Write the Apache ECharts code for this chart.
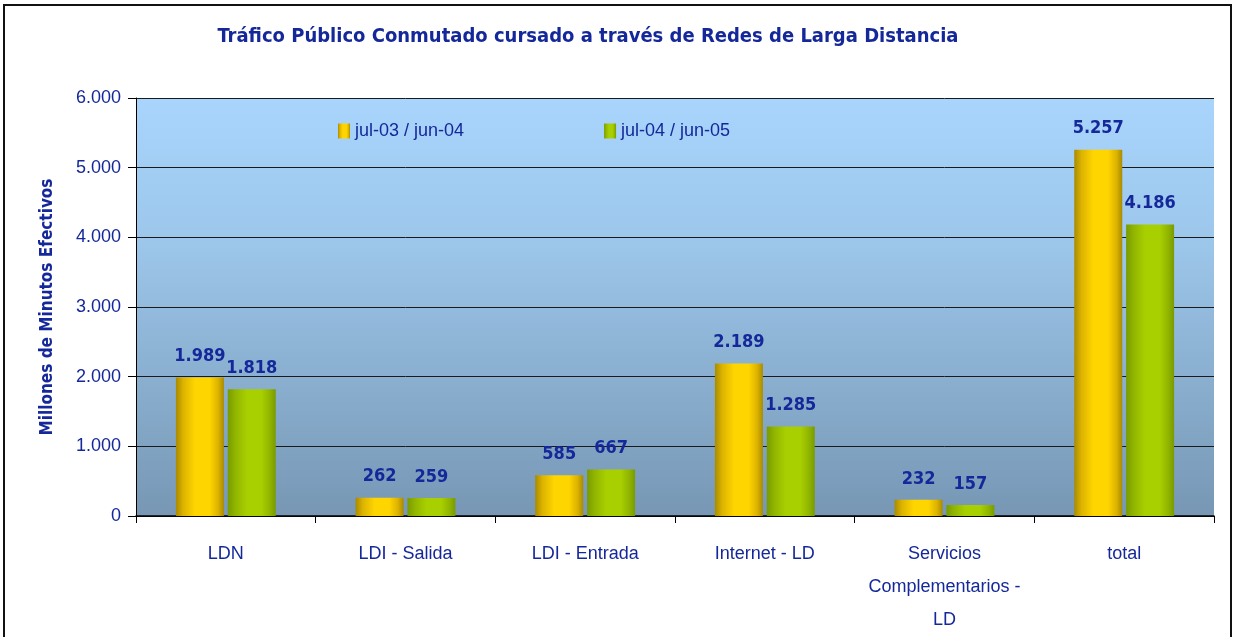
<!DOCTYPE html>
<html>
<head>
<meta charset="utf-8">
<script src="https://cdn.jsdelivr.net/npm/echarts@6/dist/echarts.min.js"></script>
<style>
  html, body { margin: 0; padding: 0; background: #fff; }
  #frame { position: absolute; left: 3px; top: 4px; width: 1229px; height: 640px; border: 2px solid #111; box-sizing: border-box; }
  #chart { position: absolute; left: 0; top: 0; width: 1236px; height: 637px; }
</style>
</head>
<body>
<div id="frame"></div>
<div id="chart"></div>
<script>
var categories = ['LDN', 'LDI - Salida', 'LDI - Entrada', 'Internet - LD', 'Servicios\nComplementarios -\nLD', 'total'];
var seriesNames = ['jul-03 / jun-04', 'jul-04 / jun-05'];
var valuesA = [1989, 262, 585, 2189, 232, 5257];
var valuesB = [1818, 259, 667, 1285, 157, 4186];

var blue = '#15289a';
var narrow = "'Liberation Sans Narrow', 'DejaVu Sans Condensed', 'Roboto Condensed', 'Liberation Sans', sans-serif";

function fmt(v) {
    return String(v).replace(/\B(?=(\d{3})+(?!\d))/g, '.');
}

function cylinder(dark, mid, light) {
    return new echarts.graphic.LinearGradient(0, 0, 1, 0, [
        {offset: 0, color: dark},
        {offset: 0.15, color: mid},
        {offset: 0.4, color: light},
        {offset: 0.7, color: light},
        {offset: 0.88, color: mid},
        {offset: 1, color: dark}
    ]);
}

var chart = echarts.init(document.getElementById('chart'));

var labelStyle = {
    show: true,
    position: 'top',
    distance: 12,
    color: blue,
    fontFamily: narrow,
    fontWeight: 'bold',
    fontSize: 18,
    formatter: function (p) { return fmt(p.value); }
};

chart.setOption({
    animation: false,
    title: {
        text: 'Tráfico Público Conmutado cursado a través de Redes de Larga Distancia',
        left: 583,
        textAlign: 'center',
        top: 22,
        textStyle: {color: blue, fontFamily: narrow, fontWeight: 'bold', fontSize: 20}
    },
    legend: {
        data: seriesNames,
        top: 117,
        left: 333,
        itemGap: 140,
        itemWidth: 12,
        itemHeight: 15,
        icon: 'rect',
        textStyle: {color: blue, fontFamily: 'Liberation Sans', fontSize: 18}
    },
    grid: {
        left: 136,
        right: 22,
        top: 98,
        bottom: 121,
        outerBoundsMode: 'none',
        show: true,
        borderWidth: 0,
        backgroundColor: new echarts.graphic.LinearGradient(0, 0, 0, 1, [
            {offset: 0, color: '#a9d5fd'},
            {offset: 0.35, color: '#9cc6ea'},
            {offset: 1, color: '#7797b4'}
        ])
    },
    xAxis: {
        type: 'category',
        data: categories,
        axisLine: {lineStyle: {color: '#000', width: 1.5}},
        axisTick: {show: true, length: 7, lineStyle: {color: '#000'}},
        axisLabel: {
            color: blue,
            fontFamily: 'Liberation Sans',
            fontSize: 18,
            margin: 22,
            lineHeight: 33,
            interval: 0
        }
    },
    yAxis: {
        type: 'value',
        min: 0,
        max: 6000,
        interval: 1000,
        name: 'Millones de Minutos Efectivos',
        nameLocation: 'middle',
        nameGap: 80,
        nameTextStyle: {color: blue, fontFamily: narrow, fontWeight: 'bold', fontSize: 17},
        axisLine: {show: true, lineStyle: {color: '#000'}},
        axisTick: {show: true, length: 8, lineStyle: {color: '#000'}},
        axisLabel: {
            color: blue,
            fontFamily: 'Liberation Sans',
            fontSize: 18,
            margin: 15,
            formatter: function (v) { return fmt(v); }
        },
        splitLine: {lineStyle: {color: '#1a1a1a', width: 1}}
    },
    series: [
        {
            name: seriesNames[0],
            type: 'bar',
            data: valuesA,
            barWidth: 48,
            barGap: '8%',
            itemStyle: {color: cylinder('#a88a00', '#dcb300', '#ffd500')},
            label: labelStyle
        },
        {
            name: seriesNames[1],
            type: 'bar',
            data: valuesB,
            barWidth: 48,
            itemStyle: {color: cylinder('#789a00', '#90b400', '#a8d000')},
            label: labelStyle
        }
    ]
});
</script>
</body>
</html>
